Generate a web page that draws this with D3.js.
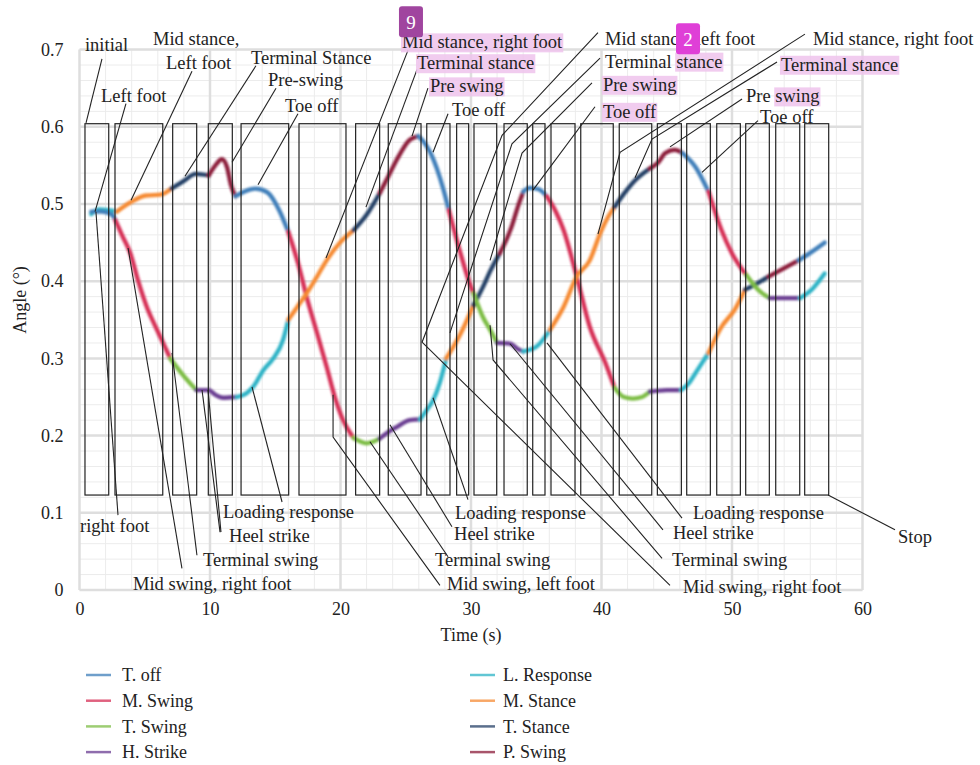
<!DOCTYPE html>
<html>
<head>
<meta charset="utf-8">
<script src="https://cdn.jsdelivr.net/npm/d3@7"></script>
<style>
  body { margin: 0; background: #fff; }
  text { font-family: "Liberation Serif", "Times New Roman", serif; fill: #222; }
</style>
</head>
<body>
<svg id="chart" width="980" height="765"></svg>
<script>
// Gait phases and their colours
const phases = ["T. off", "M. Swing", "T. Swing", "H. Strike", "L. Response", "M. Stance", "T. Stance", "P. Swing"];
const phaseColors = ["#3f7fba", "#d62d55", "#7dbd45", "#6a3d92", "#2db3c6", "#f68a33", "#243f66", "#8c1d3a"];

// Axis ticks
const xTicks = [0, 10, 20, 30, 40, 50, 60];
const yTicks = [0, 0.1, 0.2, 0.3, 0.4, 0.5, 0.6, 0.7];
const yTickLabels = ["0", "0.1", "0.2", "0.3", "0.4", "0.5", "0.6", "0.7"];

// Left foot angle: [time (s), angle, phase index of the segment that starts here]
const leftFoot = [
  [0.9, 0.487, 4], [1.5, 0.493, 4], [2.2, 0.492, 4],
  [2.85, 0.490, 5], [3.9, 0.502, 5], [5.1, 0.511, 5], [6.2, 0.512, 5],
  [7.05, 0.520, 6], [8.0, 0.530, 6], [8.9, 0.539, 6],
  [9.9, 0.537, 7], [10.5, 0.552, 7], [10.9, 0.558, 7], [11.3, 0.548, 7], [11.6, 0.525, 7],
  [11.95, 0.510, 0], [12.6, 0.516, 0], [13.5, 0.520, 0], [14.4, 0.515, 0], [15.3, 0.492, 0],
  [16.0, 0.464, 1], [16.8, 0.420, 1], [17.4, 0.380, 1], [18.2, 0.333, 1], [18.94, 0.289, 1], [19.6, 0.248, 1], [20.2, 0.220, 1],
  [21.0, 0.197, 2], [22.0, 0.190, 2],
  [23.0, 0.196, 3], [23.7, 0.205, 3], [24.3, 0.211, 3], [25.3, 0.220, 3],
  [26.1, 0.221, 4], [26.6, 0.233, 4], [27.1, 0.246, 4], [27.6, 0.268, 4],
  [28.1, 0.300, 5], [29.2, 0.332, 5],
  [30.2, 0.369, 6], [30.9, 0.392, 6], [31.5, 0.414, 6],
  [32.2, 0.436, 7], [33.1, 0.470, 7], [33.6, 0.497, 7],
  [34.0, 0.516, 0], [34.5, 0.521, 0], [35.2, 0.519, 0],
  [35.8, 0.510, 1], [36.5, 0.490, 1], [37.1, 0.466, 1], [38.1, 0.406, 1], [39.1, 0.341, 1], [40.3, 0.294, 1],
  [41.0, 0.262, 2], [41.7, 0.250, 2], [42.4, 0.248, 2], [43.1, 0.250, 2],
  [43.7, 0.257, 3], [45.0, 0.259, 3],
  [46.1, 0.259, 4], [46.7, 0.268, 4], [47.2, 0.281, 4],
  [48.2, 0.307, 5], [49.2, 0.341, 5], [50.2, 0.363, 5],
  [51.0, 0.389, 6], [51.9, 0.397, 6],
  [52.8, 0.406, 7], [54.0, 0.417, 7],
  [55.1, 0.427, 0], [56.1, 0.438, 0], [57.1, 0.450, 0]
];

// Right foot angle: [time (s), angle, phase index of the segment that starts here]
const rightFoot = [
  [0.9, 0.490, 0], [1.7, 0.490, 0], [2.5, 0.486, 0],
  [2.75, 0.479, 1], [3.3, 0.458, 1], [3.9, 0.436, 1], [4.5, 0.400, 1], [5.15, 0.367, 1], [5.8, 0.342, 1], [6.3, 0.324, 1],
  [6.95, 0.300, 2], [7.95, 0.278, 2],
  [8.95, 0.259, 3], [9.9, 0.259, 3], [10.4, 0.253, 3], [11.0, 0.249, 3],
  [12.05, 0.250, 4], [12.8, 0.255, 4], [13.3, 0.263, 4], [14.1, 0.285, 4], [14.85, 0.300, 4], [15.6, 0.324, 4],
  [16.0, 0.350, 5], [16.7, 0.367, 5], [17.4, 0.384, 5], [18.2, 0.406, 5], [18.94, 0.427, 5], [19.96, 0.450, 5],
  [21.0, 0.466, 6], [22.0, 0.486, 6],
  [23.0, 0.514, 7], [23.7, 0.537, 7], [24.3, 0.557, 7], [25.3, 0.583, 7],
  [25.96, 0.588, 0], [26.4, 0.580, 0], [26.9, 0.566, 0], [27.9, 0.518, 0],
  [28.3, 0.492, 1], [29.2, 0.436, 1], [29.9, 0.397, 1],
  [30.2, 0.384, 2], [30.9, 0.354, 2], [31.5, 0.336, 2],
  [32.0, 0.320, 3], [33.0, 0.319, 3], [33.6, 0.312, 3],
  [34.0, 0.309, 4], [35.0, 0.315, 4],
  [36.05, 0.337, 5], [37.1, 0.367, 5], [38.1, 0.406, 5], [39.1, 0.427, 5], [39.9, 0.462, 5], [40.4, 0.480, 5],
  [41.0, 0.496, 6], [41.8, 0.515, 6], [42.6, 0.531, 6],
  [43.7, 0.546, 7], [44.3, 0.553, 7], [44.9, 0.566, 7], [45.6, 0.570, 7],
  [46.2, 0.566, 0], [47.2, 0.548, 0],
  [48.2, 0.516, 1], [49.2, 0.466, 1], [50.0, 0.436, 1],
  [51.1, 0.408, 2], [52.0, 0.389, 2],
  [52.9, 0.378, 3],
  [55.2, 0.378, 4], [56.1, 0.389, 4], [57.1, 0.410, 4]
];

// Phase windows [start, end] in seconds, all spanning the same angle band
const phaseWindows = [
  [0.42, 2.24], [2.72, 6.38], [7.14, 8.98], [9.87, 11.71], [12.38, 16.03], [16.82, 20.42],
  [21.16, 23.00], [23.66, 26.17], [26.61, 28.39], [28.90, 29.82], [30.23, 31.97], [32.53, 34.31],
  [34.73, 35.67], [36.13, 37.97], [38.41, 40.90], [41.36, 43.85], [44.28, 46.12], [46.53, 48.34],
  [48.83, 50.64], [51.05, 52.86], [53.35, 55.19], [55.57, 57.41]
];
const windowBand = [0.123, 0.604];

// Phase annotations: text, anchor [time, angle] (left edge, middle of line), highlighted part
const annotations = [
  { text: "initial", at: [0.42, 0.706] },
  { text: "Mid stance,", at: [5.63, 0.714] },
  { text: "Left foot", at: [6.63, 0.683] },
  { text: "Left foot", at: [1.65, 0.640] },
  { text: "Terminal Stance", at: [13.14, 0.690] },
  { text: "Pre-swing", at: [14.44, 0.661] },
  { text: "Toe off", at: [15.75, 0.628] },
  { text: "Mid stance, right foot", at: [24.71, 0.710], mark: true },
  { text: "Terminal stance", at: [25.86, 0.683], mark: true },
  { text: "Pre swing", at: [26.86, 0.653], mark: true },
  { text: "Toe off", at: [28.54, 0.622] },
  { text: "Mid stance, left foot", at: [40.27, 0.714] },
  { text: "Terminal stance", at: [40.27, 0.685], mark: "stance" },
  { text: "Pre swing", at: [40.11, 0.655], mark: true },
  { text: "Toe off", at: [40.11, 0.620], mark: true },
  { text: "Mid stance, right foot", at: [56.21, 0.714] },
  { text: "Terminal stance", at: [53.75, 0.681], mark: true },
  { text: "Pre swing", at: [51.07, 0.640], mark: "swing" },
  { text: "Toe off", at: [52.15, 0.613] },
  { text: "right foot", at: [0.04, 0.084] },
  { text: "Loading response", at: [11.00, 0.102] },
  { text: "Heel strike", at: [11.46, 0.070] },
  { text: "Terminal swing", at: [9.46, 0.039] },
  { text: "Mid swing, right foot", at: [4.10, 0.008] },
  { text: "Loading response", at: [28.77, 0.100] },
  { text: "Heel strike", at: [28.70, 0.073] },
  { text: "Terminal swing", at: [27.24, 0.039] },
  { text: "Mid swing, left foot", at: [28.16, 0.008] },
  { text: "Loading response", at: [47.01, 0.100] },
  { text: "Heel strike", at: [45.48, 0.074] },
  { text: "Terminal swing", at: [45.40, 0.039] },
  { text: "Mid swing, right foot", at: [46.25, 0.005] },
  { text: "Stop", at: [62.72, 0.069] }
];

// Leader lines from annotations to the curves, [time, angle] vertices
const leaders = [
  [[1.72, 0.688], [0.50, 0.605]],
  [[8.62, 0.672], [3.95, 0.505]],
  [[3.56, 0.630], [1.19, 0.490]],
  [[13.52, 0.679], [8.08, 0.536]],
  [[15.06, 0.650], [11.69, 0.554]],
  [[16.74, 0.617], [13.68, 0.525]],
  [[25.17, 0.699], [18.89, 0.430]],
  [[25.86, 0.674], [21.95, 0.496]],
  [[26.70, 0.650], [25.48, 0.588]],
  [[28.24, 0.617], [27.09, 0.567]],
  [[39.73, 0.722], [32.38, 0.589], [26.25, 0.321], [45.25, 0.006]],
  [[39.89, 0.689], [33.14, 0.578], [28.39, 0.333]],
  [[39.27, 0.657], [33.91, 0.566], [31.46, 0.427]],
  [[39.50, 0.626], [34.75, 0.518]],
  [[55.59, 0.720], [41.42, 0.567], [39.73, 0.461]],
  [[53.45, 0.684], [43.87, 0.584], [42.57, 0.534]],
  [[50.77, 0.636], [45.25, 0.574]],
  [[51.99, 0.608], [47.70, 0.541]],
  [[1.26, 0.490], [2.95, 0.097]],
  [[3.72, 0.443], [7.85, 0.028]],
  [[7.09, 0.307], [9.00, 0.045]],
  [[9.39, 0.259], [10.77, 0.075]],
  [[9.85, 0.259], [10.84, 0.075]],
  [[13.22, 0.263], [15.52, 0.114]],
  [[19.43, 0.253], [19.43, 0.198], [27.62, 0.006]],
  [[22.26, 0.192], [28.24, 0.043]],
  [[23.79, 0.214], [28.54, 0.082]],
  [[27.09, 0.249], [29.77, 0.117]],
  [[35.82, 0.320], [46.17, 0.093]],
  [[32.99, 0.319], [44.71, 0.078]],
  [[31.46, 0.343], [31.69, 0.298], [44.64, 0.041]],
  [[57.36, 0.123], [62.49, 0.078]]
];

// Numbered markers
const markers = [
  { text: "9", at: [25.40, 0.736], color: "#a0459f" },
  { text: "2", at: [46.63, 0.714], color: "#df3fd7" }
];

const svg = d3.select("#chart");
const x = d3.scaleLinear().domain([0, 60]).range([79.5, 862.5]);
const y = d3.scaleLinear().domain([0, 0.7]).range([590, 49.6]);

const defs = svg.append("defs");
defs.append("filter").attr("id", "soft").attr("x", "-5%").attr("y", "-5%").attr("width", "110%").attr("height", "110%")
  .append("feGaussianBlur").attr("stdDeviation", 0.8);
defs.append("filter").attr("id", "softgrid")
  .append("feGaussianBlur").attr("stdDeviation", 0.6);

// Grid
const grid = svg.append("g").attr("filter", "url(#softgrid)");
const minorX = d3.range(0, 60.01, 2), minorY = d3.range(0, 0.701, 0.02);
grid.selectAll("line.mx").data(minorX).join("line")
  .attr("x1", d => x(d)).attr("x2", d => x(d)).attr("y1", y(0)).attr("y2", y(0.7))
  .attr("stroke", "#ececec").attr("stroke-width", 1);
grid.selectAll("line.my").data(minorY).join("line")
  .attr("x1", x(0)).attr("x2", x(60)).attr("y1", d => y(d)).attr("y2", d => y(d))
  .attr("stroke", "#ececec").attr("stroke-width", 1);
grid.selectAll("line.Mx").data(xTicks).join("line")
  .attr("x1", d => x(d)).attr("x2", d => x(d)).attr("y1", y(0)).attr("y2", y(0.7))
  .attr("stroke", "#dedede").attr("stroke-width", 2.5);
grid.selectAll("line.My").data(yTicks).join("line")
  .attr("x1", x(0)).attr("x2", x(60)).attr("y1", d => y(d)).attr("y2", d => y(d))
  .attr("stroke", "#dedede").attr("stroke-width", 2.5);

// Axes (labels only)
const xAxis = svg.append("g").attr("transform", `translate(0,${y(0) + 12})`)
  .call(d3.axisBottom(x).tickValues(xTicks).tickSize(0).tickPadding(0));
xAxis.select(".domain").remove();
xAxis.selectAll("text").attr("font-size", 18).attr("font-family", "Liberation Serif").attr("fill", "#333");

const yAxis = svg.append("g").attr("transform", `translate(${x(0) - 16},0)`)
  .call(d3.axisLeft(y).tickValues(yTicks).tickFormat((d, i) => yTickLabels[i]).tickSize(0).tickPadding(0));
yAxis.select(".domain").remove();
yAxis.selectAll("text").attr("font-size", 18).attr("font-family", "Liberation Serif").attr("fill", "#333");

svg.append("text").attr("x", 471).attr("y", 635).attr("dy", "0.35em").attr("text-anchor", "middle")
  .attr("font-size", 18).text("Time (s)");
svg.append("text").attr("transform", "translate(20,300) rotate(-90)").attr("dy", "0.35em")
  .attr("text-anchor", "middle").attr("font-size", 18).text("Angle (°)");

// Curves, one path per phase run
const line = d3.line().x(d => x(d[0])).y(d => y(d[1])).curve(d3.curveMonotoneX);
function runs(points) {
  const out = [];
  let s = 0;
  for (let i = 1; i < points.length; i++) {
    if (points[i][2] !== points[s][2] || i === points.length - 1) {
      out.push({ phase: points[s][2], pts: points.slice(s, i + 1) });
      s = i;
    }
  }
  return out;
}
const curves = svg.append("g").attr("filter", "url(#soft)");
[leftFoot, rightFoot].forEach(series => {
  curves.append("g").selectAll("path").data(runs(series)).join("path")
    .attr("d", d => line(d.pts))
    .attr("fill", "none")
    .attr("stroke", d => phaseColors[d.phase])
    .attr("stroke-width", 4.3)
    .attr("stroke-linecap", "round")
    .attr("stroke-linejoin", "round");
});

// Phase windows
svg.append("g").selectAll("rect").data(phaseWindows).join("rect")
  .attr("x", d => x(d[0])).attr("width", d => x(d[1]) - x(d[0]))
  .attr("y", y(windowBand[1])).attr("height", y(windowBand[0]) - y(windowBand[1]))
  .attr("fill", "none").attr("stroke", "#222").attr("stroke-width", 1.2);

// Leader lines
const leaderLine = d3.line().x(d => x(d[0])).y(d => y(d[1]));
svg.append("g").selectAll("path").data(leaders).join("path")
  .attr("d", leaderLine).attr("fill", "none").attr("stroke", "#222").attr("stroke-width", 1.1);

// Annotation texts with highlights
const hlLayer = svg.append("g");
const txtLayer = svg.append("g");
annotations.forEach(a => {
  const t = txtLayer.append("text")
    .attr("x", x(a.at[0])).attr("y", y(a.at[1])).attr("dy", "0.35em")
    .attr("font-size", 18.5).text(a.text);
  if (a.mark) {
    const node = t.node();
    const s = a.mark === true ? 0 : a.text.indexOf(a.mark);
    const n = a.mark === true ? a.text.length : a.mark.length;
    const x0 = node.getStartPositionOfChar(s).x;
    const w = node.getSubStringLength(s, n);
    const bb = node.getBBox();
    hlLayer.append("rect")
      .attr("x", x0 - 1).attr("y", bb.y + 1).attr("width", w + 2).attr("height", bb.height - 1)
      .attr("fill", "#efc3ec").attr("opacity", 0.85);
  }
});

// Numbered markers
const mk = svg.append("g").selectAll("g").data(markers).join("g")
  .attr("transform", d => `translate(${x(d.at[0])},${y(d.at[1])})`);
mk.append("rect").attr("x", -12).attr("y", -15.5).attr("width", 24).attr("height", 31).attr("rx", 3)
  .attr("fill", d => d.color);
mk.append("text").attr("text-anchor", "middle").attr("dy", "0.36em")
  .attr("font-family", "Open Sans, DejaVu Sans, sans-serif").attr("font-size", 19)
  .style("fill", "#fff").text(d => d.text);

// Legend
const legend = svg.append("g");
const legendCols = [{ lx: 86, tx: 122 }, { lx: 470, tx: 503 }];
phases.forEach((p, i) => {
  const col = legendCols[i < 4 ? 0 : 1];
  const row = i % 4;
  const ly = 675 + row * 25.7;
  legend.append("line").attr("x1", col.lx).attr("x2", col.lx + 25).attr("y1", ly).attr("y2", ly)
    .attr("stroke", phaseColors[i]).attr("stroke-width", 2.5).attr("opacity", 0.75);
  legend.append("text").attr("x", col.tx).attr("y", ly).attr("dy", "0.35em").attr("font-size", 18).text(p);
});
</script>
</body>
</html>
